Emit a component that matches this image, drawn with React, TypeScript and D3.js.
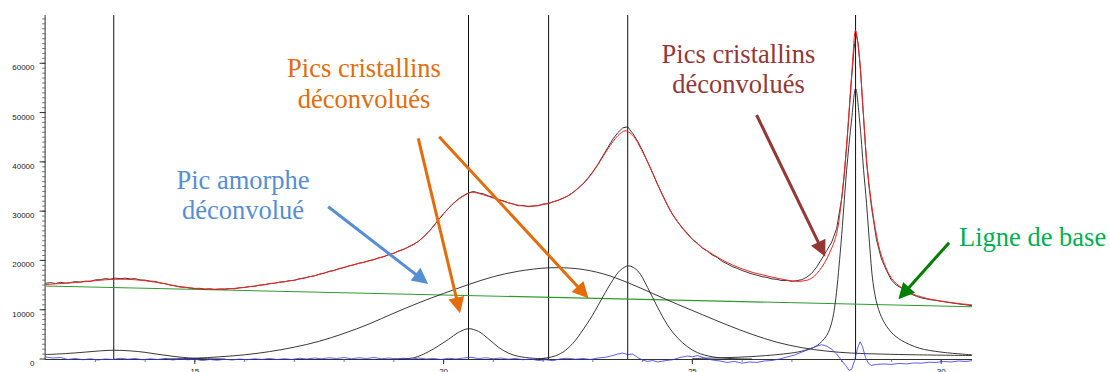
import React from 'react';
import * as d3 from 'd3';

type P = [number, number];

// ---------- data (2θ, intensity) ----------
const measured: P[] = [
  [12.0,15350],[12.1,15500],[12.2,15300],[12.3,15550],[12.4,15400],[12.5,15500],[12.6,15700],[12.7,15600],[12.8,15800],[12.9,15750],
  [13.0,16050],[13.1,16100],[13.2,16300],[13.3,16200],[13.4,16400],[13.5,16300],[13.6,16400],[13.7,16250],[13.8,16300],[13.9,16050],
  [14.0,16000],[14.1,15800],[14.2,15750],[14.3,15450],[14.4,15300],[14.5,15000],[14.6,14850],[14.7,14600],[14.8,14550],[14.9,14400],
  [15.0,14300],[15.1,14350],[15.2,14150],[15.3,14250],[15.4,14100],[15.5,14200],[15.6,14150],[15.7,14300],[15.8,14250],[15.9,14450],
  [16.0,14500],[16.1,14700],[16.2,14750],[16.3,15000],[16.4,15050],[16.5,15300],[16.6,15350],[16.7,15600],[16.8,15650],[16.9,15900],
  [17.0,15950],[17.1,16300],[17.2,16400],[17.3,16700],[17.4,16850],[17.5,17200],[17.6,17400],[17.7,17800],[17.8,17950],[17.9,18350],
  [18.0,18550],[18.1,18900],[18.2,19100],[18.3,19450],[18.4,19600],[18.5,19950],[18.6,20150],[18.7,20550],[18.8,20750],[18.9,21200],
  [19.0,21450],[19.1,21950],[19.2,22250],[19.3,22800],[19.4,23300],[19.5,23900],[19.6,24800],[19.7,25800],[19.8,27000],[19.9,28300],
  [20.0,29500],[20.1,30600],[20.2,31600],[20.3,32500],[20.4,33150],[20.5,33700],[20.6,34000],[20.7,33700],[20.8,33500],[20.9,33100],
  [21.0,32800],[21.1,32350],[21.2,32100],[21.3,31700],[21.4,31450],[21.5,31100],[21.6,31150],[21.7,30900],[21.8,31050],[21.9,31100],
  [22.0,31450],[22.1,31500],[22.2,31900],[22.3,32200],[22.4,32650],[22.5,33100],[22.6,33800],[22.7,34650],[22.8,35500],[22.9,36700],
  [23.0,38000],[23.1,39500],[23.2,41200],[23.3,42900],[23.4,44600],[23.5,45900],[23.6,46900],[23.7,47100],[23.8,45800],[23.9,44200],
  [24.0,42200],[24.1,40000],[24.2,37700],[24.3,35400],[24.4,33300],[24.5,31200],[24.6,29300],[24.7,27900],[24.8,26600],[24.9,25500],
  [25.0,24300],[25.1,23500],[25.2,22500],[25.3,21900],[25.4,21100],[25.5,20600],[25.6,19800],[25.7,19300],[25.8,18750],[25.9,18400],
  [26.0,17950],[26.1,17600],[26.2,17250],[26.3,17000],[26.4,16700],[26.5,16550],[26.6,16250],[26.7,16150],[26.8,15900],[26.9,15950],
  [27.0,15750],[27.1,15900],[27.2,16100],[27.3,16600],[27.4,17400],[27.5,18700],[27.6,20300],[27.7,22000],[27.8,23700],[27.9,26500],
  [28.0,32500],[28.05,37000],[28.1,43000],[28.15,50000],[28.2,57000],[28.25,63000],[28.29,66000],[28.33,64000],[28.38,58500],[28.42,52000],
  [28.46,46000],[28.5,40000],[28.55,35000],[28.6,30800],[28.7,24200],[28.8,20300],[28.9,18000],[29.0,16000],[29.1,15000],[29.2,14400],
  [29.3,13700],[29.4,13150],[29.5,12750],[29.6,12400],[29.7,12200],[29.8,12000],[29.9,11900],[30.0,11700],[30.1,11550],[30.2,11400],
  [30.3,11250],[30.4,11100],[30.5,11000],[30.62,10800],
];

const fit: P[] = [
  [12.0,15100],[12.2,15250],[12.4,15380],[12.6,15520],[12.8,15700],[13.0,15900],[13.2,16080],[13.4,16180],[13.6,16180],[13.8,16080],
  [14.0,15880],[14.2,15600],[14.4,15250],[14.6,14850],[14.8,14550],[15.0,14330],[15.2,14200],[15.4,14150],[15.6,14200],[15.8,14330],
  [16.0,14550],[16.2,14800],[16.4,15100],[16.6,15400],[16.8,15700],[17.0,16000],[17.2,16450],[17.4,16900],[17.6,17450],[17.8,18000],
  [18.0,18600],[18.2,19150],[18.4,19650],[18.6,20200],[18.8,20800],[19.0,21500],[19.2,22300],[19.4,23250],[19.6,24800],[19.8,27000],
  [20.0,29500],[20.2,31600],[20.4,33100],[20.55,33800],[20.7,33600],[20.9,33000],[21.1,32300],[21.3,31700],[21.5,31200],[21.7,31000],
  [21.9,31150],[22.1,31600],[22.3,32200],[22.5,33100],[22.7,34600],[22.9,36600],[23.1,39400],[23.3,42600],[23.5,45300],[23.65,46300],
  [23.8,45400],[24.0,42000],[24.2,37800],[24.4,33200],[24.6,29400],[24.8,26500],[25.0,24300],[25.2,22600],[25.4,21300],[25.6,20100],
  [25.8,19100],[26.0,18300],[26.2,17600],[26.4,17100],[26.6,16600],[26.8,16200],[27.0,15850],[27.2,15800],[27.4,16400],[27.6,18600],
  [27.8,22500],[27.9,25500],[28.0,32500],[28.1,43500],[28.2,57500],[28.28,66700],[28.35,62000],[28.42,52500],[28.5,40500],[28.6,31500],
  [28.7,25200],[28.8,21000],[29.0,16400],[29.2,14500],[29.4,13300],[29.6,12600],[29.8,12100],[30.0,11750],[30.2,11450],[30.4,11200],
  [30.62,11000],
];

const baseline: P[] = [[12.0,14800],[30.62,10600]];

const peakSmall: P[] = [
  [12.0,900],[12.4,1100],[12.8,1400],[13.1,1650],[13.37,1780],[13.7,1650],[14.0,1350],[14.3,900],[14.6,500],[14.9,200],[15.2,60],[15.6,0],
];

const peakAmorphous: P[] = [
  [14.4,0],[15.0,150],[15.5,450],[16.0,850],[16.5,1500],[17.0,2400],[17.5,3600],[18.0,5200],[18.5,7100],[19.0,9300],
  [19.5,11400],[20.0,13300],[20.5,15100],[21.0,16700],[21.5,17800],[22.11,18500],[22.7,18300],[23.2,17300],[23.7,15500],[24.2,13300],
  [24.7,11100],[25.2,9000],[25.7,6900],[26.2,5000],[26.7,3400],[27.2,2300],[27.7,1600],[28.2,1200],[28.8,1000],[29.5,850],[30.62,700],
];

const peak20: P[] = [
  [19.0,0],[19.4,250],[19.7,1500],[19.9,2700],[20.1,4000],[20.3,5400],[20.5,6150],[20.7,5600],[20.9,4100],[21.1,2400],
  [21.3,1200],[21.5,550],[21.8,150],[22.1,0],
];

const peak23: P[] = [
  [21.9,0],[22.2,500],[22.4,1400],[22.6,3200],[22.8,5900],[23.0,9000],[23.2,12600],[23.4,16000],[23.55,18000],[23.72,18900],
  [23.9,17900],[24.1,14500],[24.3,10500],[24.5,6900],[24.7,4300],[24.9,2500],[25.1,1300],[25.4,450],[25.8,80],[26.2,0],
];

const peak28: P[] = [
  [25.0,100],[25.6,250],[26.2,500],[26.9,1100],[27.2,1600],[27.5,2700],[27.7,4800],[27.8,7400],[27.87,11300],[27.97,21400],
  [28.03,29000],[28.1,38300],[28.2,48500],[28.28,54900],[28.36,48500],[28.44,38500],[28.5,31600],[28.56,23500],[28.63,15500],[28.72,10800],
  [28.83,7900],[29.0,5400],[29.2,3800],[29.56,2200],[30.0,1400],[30.62,850],
];

const residual: P[] = [
  [12.0,400],[12.15,200],[12.3,300],[12.45,-100],[12.6,100],[12.75,-150],[12.9,50],[13.05,-200],[13.2,0],[13.35,-100],
  [13.5,150],[13.65,-50],[13.8,100],[13.95,-150],[14.1,50],[14.25,-100],[14.4,100],[14.55,-200],[14.7,0],[14.85,-150],
  [15.0,-50],[15.15,-300],[15.3,-100],[15.45,-250],[15.6,-50],[15.75,-200],[15.9,0],[16.05,-150],[16.2,50],[16.35,-100],
  [16.5,100],[16.65,-100],[16.8,50],[16.95,-100],[17.1,150],[17.25,0],[17.4,200],[17.55,50],[17.7,250],[17.85,100],
  [18.0,300],[18.15,50],[18.3,250],[18.45,100],[18.6,300],[18.75,50],[18.9,200],[19.05,0],[19.2,150],[19.35,-50],
  [19.5,200],[19.65,0],[19.8,100],[19.95,-100],[20.1,150],[20.25,0],[20.4,200],[20.55,350],[20.7,100],[20.85,250],
  [21.0,50],[21.15,200],[21.3,-50],[21.45,100],[21.6,-150],[21.75,0],[21.9,-300],[22.05,-150],[22.2,-350],[22.35,50],
  [22.5,150],[22.65,-50],[22.8,100],[22.95,-100],[23.1,200],[23.25,350],[23.4,700],[23.5,1000],[23.6,1200],[23.7,900],
  [23.8,1000],[23.9,300],[24.0,-200],[24.1,-500],[24.2,-300],[24.3,-600],[24.45,-350],[24.6,-150],[24.75,300],[24.9,600],
  [25.0,450],[25.1,700],[25.25,200],[25.4,-200],[25.55,-400],[25.7,-700],[25.85,-500],[26.0,-850],[26.15,-600],[26.3,-700],
  [26.45,-400],[26.6,-300],[26.75,0],[26.9,400],[27.05,800],[27.2,1400],[27.35,2000],[27.5,2600],[27.6,2900],[27.7,2600],
  [27.8,2000],[27.9,1000],[28.0,-300],[28.08,-1300],[28.15,-2300],[28.2,-2100],[28.26,-300],[28.32,2200],[28.37,3500],[28.42,2500],
  [28.48,300],[28.54,-900],[28.6,-1300],[28.7,-1100],[28.85,-1000],[29.0,-1100],[29.15,-900],[29.3,-1000],[29.45,-800],[29.6,-850],
  [29.75,-650],[29.9,-700],[30.05,-500],[30.2,-600],[30.35,-400],[30.5,-500],[30.62,-350],
];

const peakCenters = [13.37, 20.5, 22.11, 23.7, 28.28];
const xTickLabels = [15, 20, 25, 30];
const yTickLabels = [0, 10000, 20000, 30000, 40000, 50000, 60000];

// annotation texts
const noteBlue = ['Pic amorphe', 'déconvolué'];
const noteOrange = ['Pics cristallins', 'déconvolués'];
const noteRed = ['Pics cristallins', 'déconvolués'];
const noteGreen = ['Ligne de base'];

// arrow endpoints in data units: [from, to]
const arrowBlue: P[] = [[17.68, 30900], [19.69, 15220]];
const arrowOrange1: P[] = [[19.49, 44780], [20.33, 9270]];
const arrowOrange2: P[] = [[19.91, 45110], [22.91, 12320]];
const arrowRed: P[] = [[26.29, 49510], [27.67, 20760]];
const arrowGreen: P[] = [[30.16, 23600], [29.14, 12110]];

const C_BLUE = '#558ED5';
const C_ORANGE = '#E46C0A';
const C_DARKRED = '#953735';
const C_GREEN_TXT = '#00B050';
const C_GREEN_ARROW = '#008000';

const SERIF = "'Liberation Serif', 'Times New Roman', Times, 'DejaVu Serif', serif";
const SANS = "'Liberation Sans', Arial, sans-serif";

export default function App() {
  const x = d3.scaleLinear().domain([12, 30.62]).range([45.6, 972]);
  const y = d3.scaleLinear().domain([0, 70000]).range([359, 14]);

  const smooth = d3.line<P>().x(d => x(d[0])).y(d => y(d[1])).curve(d3.curveCatmullRom.alpha(0.5));
  const raw = d3.line<P>().x(d => x(d[0])).y(d => y(d[1]));

  const xMinor = d3.range(13, 31, 1);
  const yMinor = d3.range(1000, 70000, 1000);

  const arrow = (pts: P[], color: string, key: string) => {
    const x0 = x(pts[0][0]), y0 = y(pts[0][1]);
    const x1 = x(pts[1][0]), y1 = y(pts[1][1]);
    const dx = x1 - x0, dy = y1 - y0;
    const len = Math.hypot(dx, dy);
    const ux = dx / len, uy = dy / len;
    const L = 16, hw = 8;
    const bx = x1 - ux * L, by = y1 - uy * L;
    const px = -uy, py = ux;
    const head = `${x1},${y1} ${bx + px * hw},${by + py * hw} ${bx - px * hw},${by - py * hw}`;
    return (
      <g key={key}>
        <line x1={x0} y1={y0} x2={bx + ux * 1} y2={by + uy * 1} stroke={color} strokeWidth={3} />
        <polygon points={head} fill={color} />
      </g>
    );
  };

  const serifStyle = { fontFamily: SERIF, fontSize: '26.5px' };
  const sansStyle = { fontFamily: SANS, fontSize: '8px' };

  return (
    <svg width={1110} height={372} style={{ position: 'absolute', left: 0, top: 0, background: '#fff' }}>
      <rect x={0} y={0} width={1110} height={372} fill="#fff" />

      {/* y axis */}
      <line x1={x(12) - 0.5} x2={x(12) - 0.5} y1={y(0)} y2={15} stroke="#333" strokeWidth={1} />
      {yMinor.map(v => (
        <line key={'ym' + v} x1={x(12) - 3.5} x2={x(12)} y1={y(v)} y2={y(v)} stroke="#555" strokeWidth={0.8} />
      ))}
      {yTickLabels.map(v => (
        <g key={'yt' + v}>
          <line x1={x(12) - 6} x2={x(12)} y1={y(v)} y2={y(v)} stroke="#333" strokeWidth={1} />
          <text x={34.5} y={y(v) + 7} textAnchor="end" style={sansStyle} fill="#222">{v}</text>
        </g>
      ))}

      {/* x axis */}
      <line x1={x(12) - 1} x2={x(30.62)} y1={y(0) + 0.5} y2={y(0) + 0.5} stroke="#333" strokeWidth={1} />
      {xMinor.map(v => (
        <line key={'xm' + v} x1={x(v)} x2={x(v)} y1={y(0)} y2={y(0) + 3} stroke="#555" strokeWidth={0.8} />
      ))}
      {xTickLabels.map(v => (
        <g key={'xt' + v}>
          <line x1={x(v)} x2={x(v)} y1={y(0)} y2={y(0) + 5} stroke="#333" strokeWidth={1} />
          <text x={x(v)} y={374} textAnchor="middle" style={sansStyle} fill="#222">{v}</text>
        </g>
      ))}

      {/* peak position markers */}
      {peakCenters.map(c => (
        <line key={'pc' + c} x1={x(c)} x2={x(c)} y1={15} y2={y(0)} stroke="#111" strokeWidth={1} />
      ))}

      {/* baseline */}
      <path d={raw(baseline) || ''} fill="none" stroke="#2E9B2E" strokeWidth={1.1} />

      {/* deconvoluted components */}
      {[peakSmall, peakAmorphous, peak20, peak23, peak28].map((pk, i) => (
        <path key={'pk' + i} d={smooth(pk) || ''} fill="none" stroke="#222" strokeWidth={0.9} />
      ))}

      {/* residual */}
      <path d={raw(residual) || ''} fill="none" stroke="#3333FF" strokeWidth={0.8} />

      {/* measured */}
      <path d={raw(measured) || ''} fill="none" stroke="#222" strokeWidth={0.9} />
      {/* fit */}
      <path d={smooth(fit) || ''} fill="none" stroke="#FF2020" strokeWidth={1} />

      {/* annotations */}
      {noteBlue.map((t, i) => (
        <text key={'nb' + i} x={243} y={189 + i * 30} textAnchor="middle" style={serifStyle} fill={C_BLUE}>{t}</text>
      ))}
      {noteOrange.map((t, i) => (
        <text key={'no' + i} x={364} y={77 + i * 31} textAnchor="middle" style={serifStyle} fill={C_ORANGE}>{t}</text>
      ))}
      {noteRed.map((t, i) => (
        <text key={'nr' + i} x={738.5} y={63 + i * 30} textAnchor="middle" style={serifStyle} fill={C_DARKRED}>{t}</text>
      ))}
      {noteGreen.map((t, i) => (
        <text key={'ng' + i} x={959} y={246} textAnchor="start" style={serifStyle} fill={C_GREEN_TXT}>{t}</text>
      ))}

      {arrow(arrowBlue, C_BLUE, 'ab')}
      {arrow(arrowOrange1, C_ORANGE, 'ao1')}
      {arrow(arrowOrange2, C_ORANGE, 'ao2')}
      {arrow(arrowRed, C_DARKRED, 'ar')}
      {arrow(arrowGreen, C_GREEN_ARROW, 'ag')}
    </svg>
  );
}
